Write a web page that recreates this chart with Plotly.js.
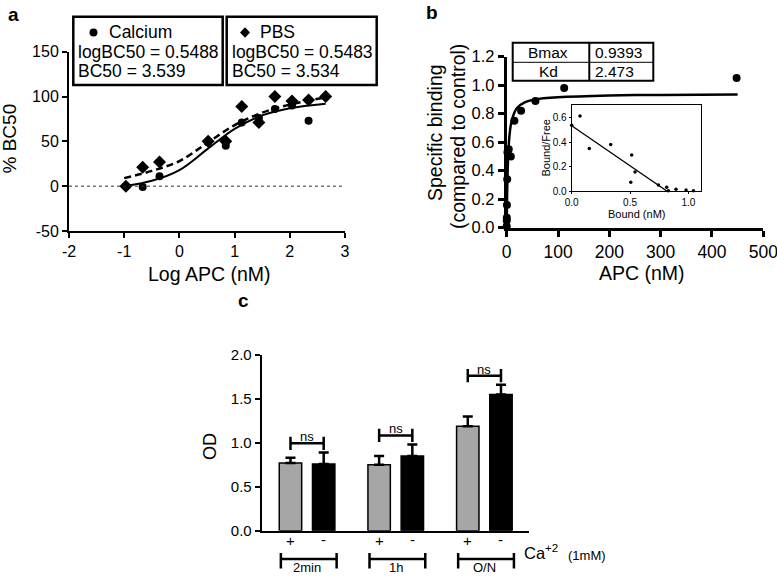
<!DOCTYPE html>
<html><head><meta charset="utf-8">
<script src="https://cdn.plot.ly/plotly-3.0.1.min.js"></script>
<style>html,body{margin:0;padding:0;background:#fff}#chart{width:777px;height:588px}</style>
</head><body><div id="chart"></div><script>
// ---------- Panel a data ----------
const aLogAPC   = [-0.97, -0.665, -0.36, 0.52, 0.84, 1.13, 1.44, 1.73, 2.04, 2.34, 2.65];
const aCalcium  = [0, -1, 11, 49, 45, 71, 76, 86, 90, 73, 100];
const aPBS      = [0, 21, 27, 50, 50, 89, 71, 100, 95, 96, 100];
const aFitX       = [-1, -0.5, 0, 0.5, 1, 1.5, 2, 2.65];
const aFitCalcium = [0, 6, 18, 41, 64, 79, 87, 92];
const aFitPBS     = [9, 17, 28, 48, 68, 82, 91, 99];
const aSeriesNames = ['Calcium', 'PBS'];
const aLogBC50 = [0.5488, 0.5483];
const aBC50 = [3.539, 3.534];
const aXTicks = [-2, -1, 0, 1, 2, 3];
const aYTicks = [-50, 0, 50, 100, 150];

// ---------- Panel b data ----------
const bAPC     = [0.03, 0.1, 0.2, 0.4, 1, 1.5, 4, 8, 15, 28, 56, 112, 448];
const bBinding = [0.01, 0.05, 0.07, 0.16, 0.34, 0.53, 0.55, 0.50, 0.75, 0.82, 0.89, 0.98, 1.05];
const bFitAPC  = [0, 0.5, 1, 2, 3, 5, 8, 12, 20, 35, 55, 100, 200, 300, 450];
const bFitBinding = [0, 0.16, 0.27, 0.42, 0.51, 0.63, 0.72, 0.78, 0.84, 0.88, 0.90, 0.915, 0.928, 0.932, 0.935];
const bTableLabels = ['Bmax', 'Kd'];
const bTableValues = ['0.9393', '2.473'];
// inset (Scatchard)
const insetBound = [0, 0.071, 0.151, 0.334, 0.514, 0.506, 0.543, 0.743, 0.814, 0.829, 0.894, 0.98, 1.043];
const insetBoundFree = [0.54, 0.614, 0.349, 0.382, 0.295, 0.071, 0.155, 0.049, 0.03, 0.003, 0.014, 0.008, 0.003];
const insetLineBound = [0, 0.815];
const insetLineBoundFree = [0.535, 0];

// ---------- Panel c data ----------
const cGroups = ['2min', '1h', 'O/N'];
const cCaPlus = [0.77, 0.75, 1.19];
const cCaPlusErr = [0.06, 0.10, 0.11];
const cCaMinus = [0.76, 0.85, 1.55];
const cCaMinusErr = [0.13, 0.13, 0.11];
const cSignif = ['ns', 'ns', 'ns'];

// ---------- helpers (layout only) ----------
const W = 777, H = 588;
const px = v => v / W;
const py = v => 1 - v / H;
const FONT = 'Liberation Sans, Arial, Helvetica, sans-serif';
const black = '#000';

const traces = [];
// Panel a
traces.push({x: aFitX, y: aFitCalcium, xaxis: 'x', yaxis: 'y', mode: 'lines', line: {color: black, width: 2, shape: 'spline'}, hoverinfo: 'skip'});
traces.push({x: aFitX, y: aFitPBS, xaxis: 'x', yaxis: 'y', mode: 'lines', line: {color: black, width: 2.5, dash: '7px,4px', shape: 'spline'}, hoverinfo: 'skip'});
traces.push({x: aLogAPC, y: aCalcium, xaxis: 'x', yaxis: 'y', mode: 'markers', marker: {symbol: 'circle', size: 8, color: black}, cliponaxis: false});
traces.push({x: aLogAPC, y: aPBS, xaxis: 'x', yaxis: 'y', mode: 'markers', marker: {symbol: 'diamond', size: 10, color: black}, cliponaxis: false});
// Panel b
traces.push({x: bFitAPC, y: bFitBinding, xaxis: 'x2', yaxis: 'y2', mode: 'lines', line: {color: black, width: 2.5, shape: 'spline', smoothing: 0.6}, cliponaxis: false});
traces.push({x: bAPC, y: bBinding, xaxis: 'x2', yaxis: 'y2', mode: 'markers', marker: {symbol: 'circle', size: 8, color: black}, cliponaxis: false});
// inset
traces.push({x: insetLineBound, y: insetLineBoundFree, xaxis: 'x3', yaxis: 'y3', mode: 'lines', line: {color: black, width: 1.3}});
traces.push({x: insetBound, y: insetBoundFree, xaxis: 'x3', yaxis: 'y3', mode: 'markers', marker: {size: 3.5, color: black}, cliponaxis: false});
// Panel c
const groupStep = 2.67;
const plusX = cGroups.map((g, i) => i * groupStep);
const minusX = cGroups.map((g, i) => i * groupStep + 1);
const barW = 0.675;
traces.push({type: 'bar', x: plusX, y: cCaPlus, width: barW, xaxis: 'x4', yaxis: 'y4',
  marker: {color: '#a6a6a6', line: {color: black, width: 1.5}},
  error_y: {type: 'data', symmetric: false, array: cCaPlusErr, arrayminus: cCaPlusErr.map(() => 0), color: black, thickness: 2.5, width: 5}});
traces.push({type: 'bar', x: minusX, y: cCaMinus, width: barW, xaxis: 'x4', yaxis: 'y4',
  marker: {color: black, line: {color: black, width: 1.5}},
  error_y: {type: 'data', symmetric: false, array: cCaMinusErr, arrayminus: cCaMinusErr.map(() => 0), color: black, thickness: 2.5, width: 5}});

const axBase = {showgrid: false, zeroline: false, showline: true, linecolor: black, ticks: 'outside', tickcolor: black, fixedrange: true};
const layout = {
  width: W, height: H, margin: {l: 0, r: 0, t: 0, b: 0}, paper_bgcolor: '#fff', plot_bgcolor: 'rgba(0,0,0,0)',
  showlegend: false, font: {family: FONT, color: black},
  xaxis: Object.assign({}, axBase, {domain: [px(69), px(345)], range: [-2, 3], tickvals: aXTicks, ticktext: aXTicks.map(String), anchor: 'y', linewidth: 2, tickwidth: 2, ticklen: 5, tickfont: {size: 16}}),
  yaxis: Object.assign({}, axBase, {domain: [py(231), py(51.7)], range: [-50, 150], tickvals: aYTicks, ticktext: aYTicks.map(String), anchor: 'x', linewidth: 2, tickwidth: 2, ticklen: 5, tickfont: {size: 16}}),
  xaxis2: Object.assign({}, axBase, {domain: [px(506.7), px(763.3)], range: [0, 500], dtick: 100, anchor: 'y2', linewidth: 3, tickwidth: 3, ticklen: 6, tickfont: {size: 17.5}, ticklabeloverflow: 'allow'}),
  yaxis2: Object.assign({}, axBase, {domain: [py(227.7), py(56.7)], range: [0, 1.2], dtick: 0.2, tickformat: '.1f', anchor: 'x2', linewidth: 3, tickwidth: 3, ticklen: 6, tickfont: {size: 16.5}}),
  xaxis3: Object.assign({}, axBase, {domain: [px(571.7), px(701)], range: [0, 1.108], tickvals: [0, 0.5, 1], tickformat: '.1f', anchor: 'y3', mirror: true, linewidth: 1, tickwidth: 1, ticklen: 2, tickfont: {size: 10}}),
  yaxis3: Object.assign({}, axBase, {domain: [py(191), py(105)], range: [0, 0.705], tickvals: [0, 0.2, 0.4, 0.6], tickformat: '.1f', anchor: 'x3', mirror: true, linewidth: 1, tickwidth: 1, ticklen: 2, tickfont: {size: 10}}),
  xaxis4: Object.assign({}, axBase, {domain: [px(261.7), px(529.3)], range: [-0.867, 7.193], anchor: 'y4', linewidth: 2, ticks: '', showticklabels: false}),
  yaxis4: Object.assign({}, axBase, {domain: [py(530.7), py(355)], range: [0, 2], dtick: 0.5, tickformat: '.1f', anchor: 'x4', linewidth: 2, tickwidth: 2, ticklen: 5, tickfont: {size: 15}}),
  shapes: [], annotations: []
};
const S = layout.shapes, A = layout.annotations;
function txt(x, y, text, size, opts) {
  A.push(Object.assign({xref: 'paper', yref: 'paper', x: px(x), y: py(y), text: text, showarrow: false,
    font: {size: size, family: FONT, color: black}, xanchor: 'center', yanchor: 'middle'}, opts || {}));
}

// Panel labels
txt(13, 14, '<b>a</b>', 19);
txt(431.7, 13, '<b>b</b>', 19);
txt(243, 300, '<b>c</b>', 19);

// Panel a: zero line, titles, legend boxes
S.push({type: 'line', xref: 'x', yref: 'y', x0: -2, x1: 3, y0: 0, y1: 0, line: {color: '#333', width: 1, dash: 'dot'}});
txt(8.5, 139, '% BC50', 19, {textangle: -90});
txt(209, 274, 'Log APC (nM)', 19.5);
const boxes = [[73.3, 222.7], [226.7, 376.7]];
boxes.forEach((b, i) => {
  S.push({type: 'rect', xref: 'paper', yref: 'paper', x0: px(b[0]), x1: px(b[1]), y0: py(85), y1: py(16.7), line: {color: black, width: 2.5}});
  txt(b[0] + 3, 52, 'logBC50 = ' + aLogBC50[i].toFixed(4), 17.5, {xanchor: 'left'});
  txt(b[0] + 3, 71, 'BC50 = ' + aBC50[i].toFixed(3), 17.5, {xanchor: 'left'});
});
txt(107, 32.5, aSeriesNames[0], 17.5, {xanchor: 'left'});
txt(258, 32.5, aSeriesNames[1], 17.5, {xanchor: 'left'});
S.push({type: 'circle', xref: 'paper', yref: 'paper', x0: px(89.5), x1: px(97.5), y0: py(36.5), y1: py(28.5), fillcolor: black, line: {width: 0}});
S.push({type: 'path', xref: 'paper', yref: 'paper', path: `M ${px(245)} ${py(27.3)} L ${px(250)} ${py(32.5)} L ${px(245)} ${py(37.7)} L ${px(240)} ${py(32.5)} Z`, fillcolor: black, line: {width: 0}});

// Panel b: titles, table, inset titles
txt(641.7, 273, 'APC (nM)', 19.5);
txt(435, 133, 'Specific binding', 19.5, {textangle: -90});
txt(458, 137, '(compared to control)', 19.5, {textangle: -90});
S.push({type: 'rect', xref: 'paper', yref: 'paper', x0: px(512.7), x1: px(653.3), y0: py(80.7), y1: py(42.7), line: {color: black, width: 2}});
S.push({type: 'line', xref: 'paper', yref: 'paper', x0: px(589.3), x1: px(589.3), y0: py(80.7), y1: py(42.7), line: {color: black, width: 2}});
S.push({type: 'line', xref: 'paper', yref: 'paper', x0: px(512.7), x1: px(653.3), y0: py(62.3), y1: py(62.3), line: {color: black, width: 1}});
bTableLabels.forEach((l, i) => {
  const yc = i === 0 ? 52.5 : 71.5;
  txt(548, yc, l, 15.5);
  txt(593, yc, bTableValues[i], 15.5, {xanchor: 'left'});
});
txt(636.5, 214, 'Bound (nM)', 11);
txt(545.5, 148, 'Bound/Free', 11, {textangle: -90});

// Panel c: title, significance brackets, group brackets
txt(210, 447, 'OD', 18, {textangle: -90});
cGroups.forEach((g, i) => {
  const top = Math.max(cCaPlus[i] + cCaPlusErr[i], cCaMinus[i] + cCaMinusErr[i]);
  const yb = top + 0.105, x0 = plusX[i], x1 = minusX[i];
  S.push({type: 'path', xref: 'x4', yref: 'y4', path: `M ${x0} ${yb + 0.075} V ${yb - 0.075} M ${x0} ${yb} H ${x1} M ${x1} ${yb + 0.075} V ${yb - 0.075}`, line: {color: black, width: 2.5}});
  A.push({xref: 'x4', yref: 'y4', x: (x0 + x1) / 2, y: yb, yanchor: 'bottom', yshift: -3, text: cSignif[i], showarrow: false, font: {size: 13, family: FONT, color: black}});
  // group bracket under axis
  const gx0 = x0 - 0.29, gx1 = x1 + 0.39;
  S.push({type: 'path', xref: 'x4', yref: 'paper', path: `M ${gx0} ${py(553)} V ${py(568.5)} M ${gx0} ${py(559)} H ${gx1} M ${gx1} ${py(553)} V ${py(568.5)}`, line: {color: black, width: 2.5}});
  A.push({xref: 'x4', yref: 'paper', x: x0, y: py(551), text: '+', showarrow: false, font: {size: 15, family: FONT, color: black}});
  A.push({xref: 'x4', yref: 'paper', x: x1, y: py(550), text: '-', showarrow: false, font: {size: 15, family: FONT, color: black}});
  A.push({xref: 'x4', yref: 'paper', x: (x0 + x1) / 2, y: py(577), text: g, showarrow: false, font: {size: 13, family: FONT, color: black}});
});
txt(522, 552, 'Ca<sup>+2</sup>', 16.5, {xanchor: 'left'});
txt(566, 555.5, '(1mM)', 13, {xanchor: 'left'});

Plotly.newPlot('chart', traces, layout, {staticPlot: true, displayModeBar: false});
</script></body></html>
